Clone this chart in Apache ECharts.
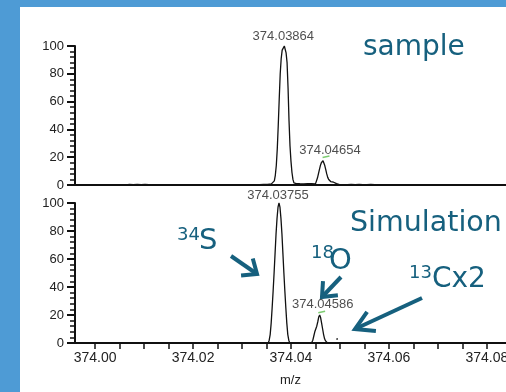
<!DOCTYPE html>
<html>
<head>
<meta charset="utf-8">
<script src="https://cdn.jsdelivr.net/npm/echarts@6/dist/echarts.min.js"></script>
<style>
  html, body { margin: 0; padding: 0; background: #4e9bd5; }
  #panel { position: absolute; left: 20px; top: 7px; width: 486px; height: 385px; background: #fff; }
  #chart { position: absolute; left: 0; top: 0; width: 506px; height: 392px; }
</style>
</head>
<body>
<div id="panel"></div>
<div id="chart"></div>
<script>
// m/z axis ticks and labels
const xTickValues = [374.00, 374.005, 374.01, 374.015, 374.02, 374.025, 374.03, 374.035, 374.04,
  374.045, 374.05, 374.055, 374.06, 374.065, 374.07, 374.075, 374.08]
const xLabelValues = [374.00, 374.02, 374.04, 374.06, 374.08]
const xMin = 373.9959
const xMax = 374.0839

// measured sample profile [m/z, relative abundance]
const sampleProfile = [
  [373.9960, 0], [374.0064, 0], [374.0066, 1.0], [374.0070, 0.4], [374.0074, 1.1], [374.0078, 0.3],
  [374.0082, 1.0], [374.0086, 0.4], [374.0090, 1.2], [374.0094, 0.3], [374.0098, 1.0], [374.0102, 0.4],
  [374.0106, 1.1], [374.0110, 0.3], [374.0114, 1.0], [374.0117, 0],
  [374.0320, 0], [374.0324, 0.9], [374.0328, 0.3], [374.0332, 1.0], [374.0336, 0.3], [374.0340, 1.1],
  [374.0344, 0.4], [374.0348, 1.0], [374.0352, 0.5], [374.0356, 1.2], [374.0360, 0.8], [374.0362, 1.5],
  [374.0364, 2], [374.0366, 3], [374.0368, 7], [374.0370, 14], [374.0372, 26], [374.0374, 43],
  [374.0376, 62], [374.0378, 80], [374.0380, 91], [374.0382, 97], [374.03864, 100], [374.0388, 99],
  [374.0390, 95], [374.0392, 88], [374.0394, 70], [374.0396, 46], [374.0398, 28], [374.0400, 17],
  [374.0402, 9], [374.0404, 4], [374.0406, 1.5], [374.0408, 0.8], [374.0411, 1.0], [374.0414, 0.3],
  [374.0418, 0.9], [374.0422, 0.3], [374.0426, 0.8], [374.0430, 0.3], [374.0434, 1.0], [374.0438, 0.4],
  [374.0442, 0.9], [374.0446, 0.5],
  [374.0450, 0.8], [374.0452, 2], [374.0454, 5], [374.0456, 8], [374.0458, 11], [374.0460, 14],
  [374.0462, 16], [374.0464, 17.2], [374.04654, 17.5], [374.0467, 16.5], [374.0469, 14], [374.0471, 11],
  [374.0473, 8], [374.0475, 5.5], [374.0477, 4], [374.0479, 3], [374.0481, 2.5], [374.0483, 3],
  [374.0485, 2.5], [374.0487, 2], [374.0489, 2.5], [374.0491, 1.5], [374.0493, 1], [374.0495, 1.5],
  [374.0497, 0.5], [374.0499, 0.2],
  [374.0503, 0.9], [374.0507, 0.3], [374.0511, 1.0], [374.0515, 0.3], [374.0519, 0.9], [374.0523, 0.4],
  [374.0527, 1.0], [374.0531, 0.3], [374.0535, 0.9], [374.0539, 0.4], [374.0543, 1.0], [374.0547, 0.3],
  [374.0551, 0.9], [374.0555, 0.3], [374.0559, 1.0], [374.0563, 0.4], [374.0567, 0.9], [374.0571, 0.3],
  [374.0575, 0.9], [374.0578, 0], [374.0839, 0]
]

// simulated isotope profile [m/z, relative abundance]
const simProfile = [
  [373.9960, 0], [374.03535, 0], [374.03555, 2], [374.03575, 6], [374.03595, 14], [374.03615, 25],
  [374.03635, 37], [374.03655, 50], [374.03675, 64], [374.03695, 78], [374.03715, 89], [374.03735, 97],
  [374.03755, 100], [374.03775, 97], [374.03795, 89], [374.03815, 78], [374.03835, 64], [374.03855, 50],
  [374.03875, 37], [374.03895, 25], [374.03915, 14], [374.03935, 6], [374.03955, 2], [374.03975, 0],
  [374.04426, 0.5], [374.04446, 2], [374.04466, 5], [374.04486, 8], [374.04506, 10], [374.04526, 12],
  [374.04546, 15], [374.04566, 18.5], [374.04586, 20], [374.04606, 18], [374.04626, 14], [374.04646, 10],
  [374.04666, 6], [374.04686, 3], [374.04706, 1.5], [374.04726, 0.5], [374.04746, 0],
  [374.0492, null], [374.04938, 2.2], [374.04945, 3.4], [374.04952, 2.2], [374.0497, null],
  [374.0497, 0], [374.0839, 0]
]

// labelled centroids
const samplePeaks = [[374.03864, 100], [374.04654, 17.5]]
const simPeaks = [[374.03755, 100], [374.04586, 20]]
const sampleLabelOffsets = [[-1, 1], [7, 0]]
const simLabelOffsets = [[-1, 3], [3, 0]]

const ink = '#111'
const teal = '#16607e'
const tickFont = 'Liberation Sans, Arial, sans-serif'

const chart = echarts.init(document.getElementById('chart'))

const xAxisFor = (gi, withLabels) => ({
  type: 'value', gridIndex: gi, min: xMin, max: xMax,
  axisLine: { show: true, onZero: false, lineStyle: { color: ink, width: 2 } },
  axisTick: withLabels
    ? { show: true, length: 6, customValues: xTickValues, lineStyle: { color: ink, width: 1.5 } }
    : { show: false },
  axisLabel: withLabels
    ? { show: true, customValues: xLabelValues, formatter: v => v.toFixed(2), fontSize: 14,
        color: '#222', fontFamily: tickFont, margin: 8 }
    : { show: false },
  splitLine: { show: false },
  name: withLabels ? 'm/z' : '',
  nameLocation: 'middle', nameGap: 31,
  nameTextStyle: { fontSize: 13, color: '#222', fontFamily: tickFont }
})

const yAxisFor = gi => ({
  type: 'value', gridIndex: gi, min: 0, max: 100, interval: 20,
  axisLine: { show: true, onZero: false, lineStyle: { color: ink, width: 2 } },
  axisTick: { show: true, length: 8, lineStyle: { color: ink, width: 2 } },
  minorTick: { show: true, splitNumber: 5, length: 5, lineStyle: { color: ink, width: 1.5 } },
  splitLine: { show: false },
  axisLabel: { fontSize: 13, color: '#222', fontFamily: tickFont, margin: 11 }
})

const profileSeries = (gi, data) => ({
  type: 'line', xAxisIndex: gi, yAxisIndex: gi, data, symbol: 'none',
  lineStyle: { color: ink, width: 1.3 }, silent: true, animation: false
})

const labelSeries = (gi, peaks, offsets) => ({
  type: 'scatter', xAxisIndex: gi, yAxisIndex: gi, symbolSize: 0, animation: false, silent: true,
  data: peaks.map((p, i) => ({
    value: p,
    label: { show: true, position: 'top', distance: 4, offset: offsets[i],
      formatter: () => p[0].toFixed(5), fontSize: 13, color: '#222', fontFamily: tickFont }
  }))
})

const centroidSeries = (gi, peaks, offset) => ({
  type: 'scatter', xAxisIndex: gi, yAxisIndex: gi, animation: false, silent: true,
  symbol: 'rect', symbolSize: [7, 1.5], symbolOffset: offset, symbolRotate: 12,
  itemStyle: { color: '#5cbf4e' }, data: peaks.slice(1)
})

const arrow = (x1, y1, x2, y2, len, deg) => {
  const a = Math.atan2(y1 - y2, x1 - x2)
  const r = deg * Math.PI / 180
  const arm = t => [x2 + len * Math.cos(a + t), y2 + len * Math.sin(a + t)]
  return [
    { type: 'polyline', shape: { points: [[x1, y1], [x2, y2]] },
      style: { stroke: teal, lineWidth: 4, fill: null } },
    { type: 'polyline', shape: { points: [arm(r), [x2, y2], arm(-r)] },
      style: { stroke: teal, lineWidth: 4, fill: null, lineJoin: 'miter' } }
  ]
}

const txt = (x, y, text, size) => ({
  type: 'text', x, y,
  style: { text, fill: teal, fontSize: size, fontFamily: 'DejaVu Sans', align: 'left', verticalAlign: 'middle' }
})

chart.setOption({
  animation: false,
  grid: [
    { left: 75, right: 0, top: 46, height: 139, outerBoundsMode: 'none' },
    { left: 75, right: 0, top: 203, height: 140, outerBoundsMode: 'none' }
  ],
  xAxis: [xAxisFor(0, false), xAxisFor(1, true)],
  yAxis: [yAxisFor(0), yAxisFor(1)],
  series: [
    profileSeries(0, sampleProfile),
    profileSeries(1, simProfile),
    labelSeries(0, samplePeaks, sampleLabelOffsets),
    labelSeries(1, simPeaks, simLabelOffsets),
    centroidSeries(0, samplePeaks, [3, -4]),
    centroidSeries(1, simPeaks, [2, -3])
  ],
  graphic: [
    txt(363, 48, 'sample', 28),
    txt(350, 224, 'Simulation', 28.5),
    txt(177, 235, '34', 18),
    txt(199, 241, 'S', 29),
    txt(311, 253, '18', 18),
    txt(329, 261, 'O', 29),
    txt(409, 273, '13', 18),
    txt(432, 280, 'Cx2', 28),
    ...arrow(231, 256, 257, 274, 16, 40),
    ...arrow(341, 277, 322, 297, 16, 40),
    ...arrow(422, 298, 355, 329, 21, 30)
  ]
})
</script>
</body>
</html>
